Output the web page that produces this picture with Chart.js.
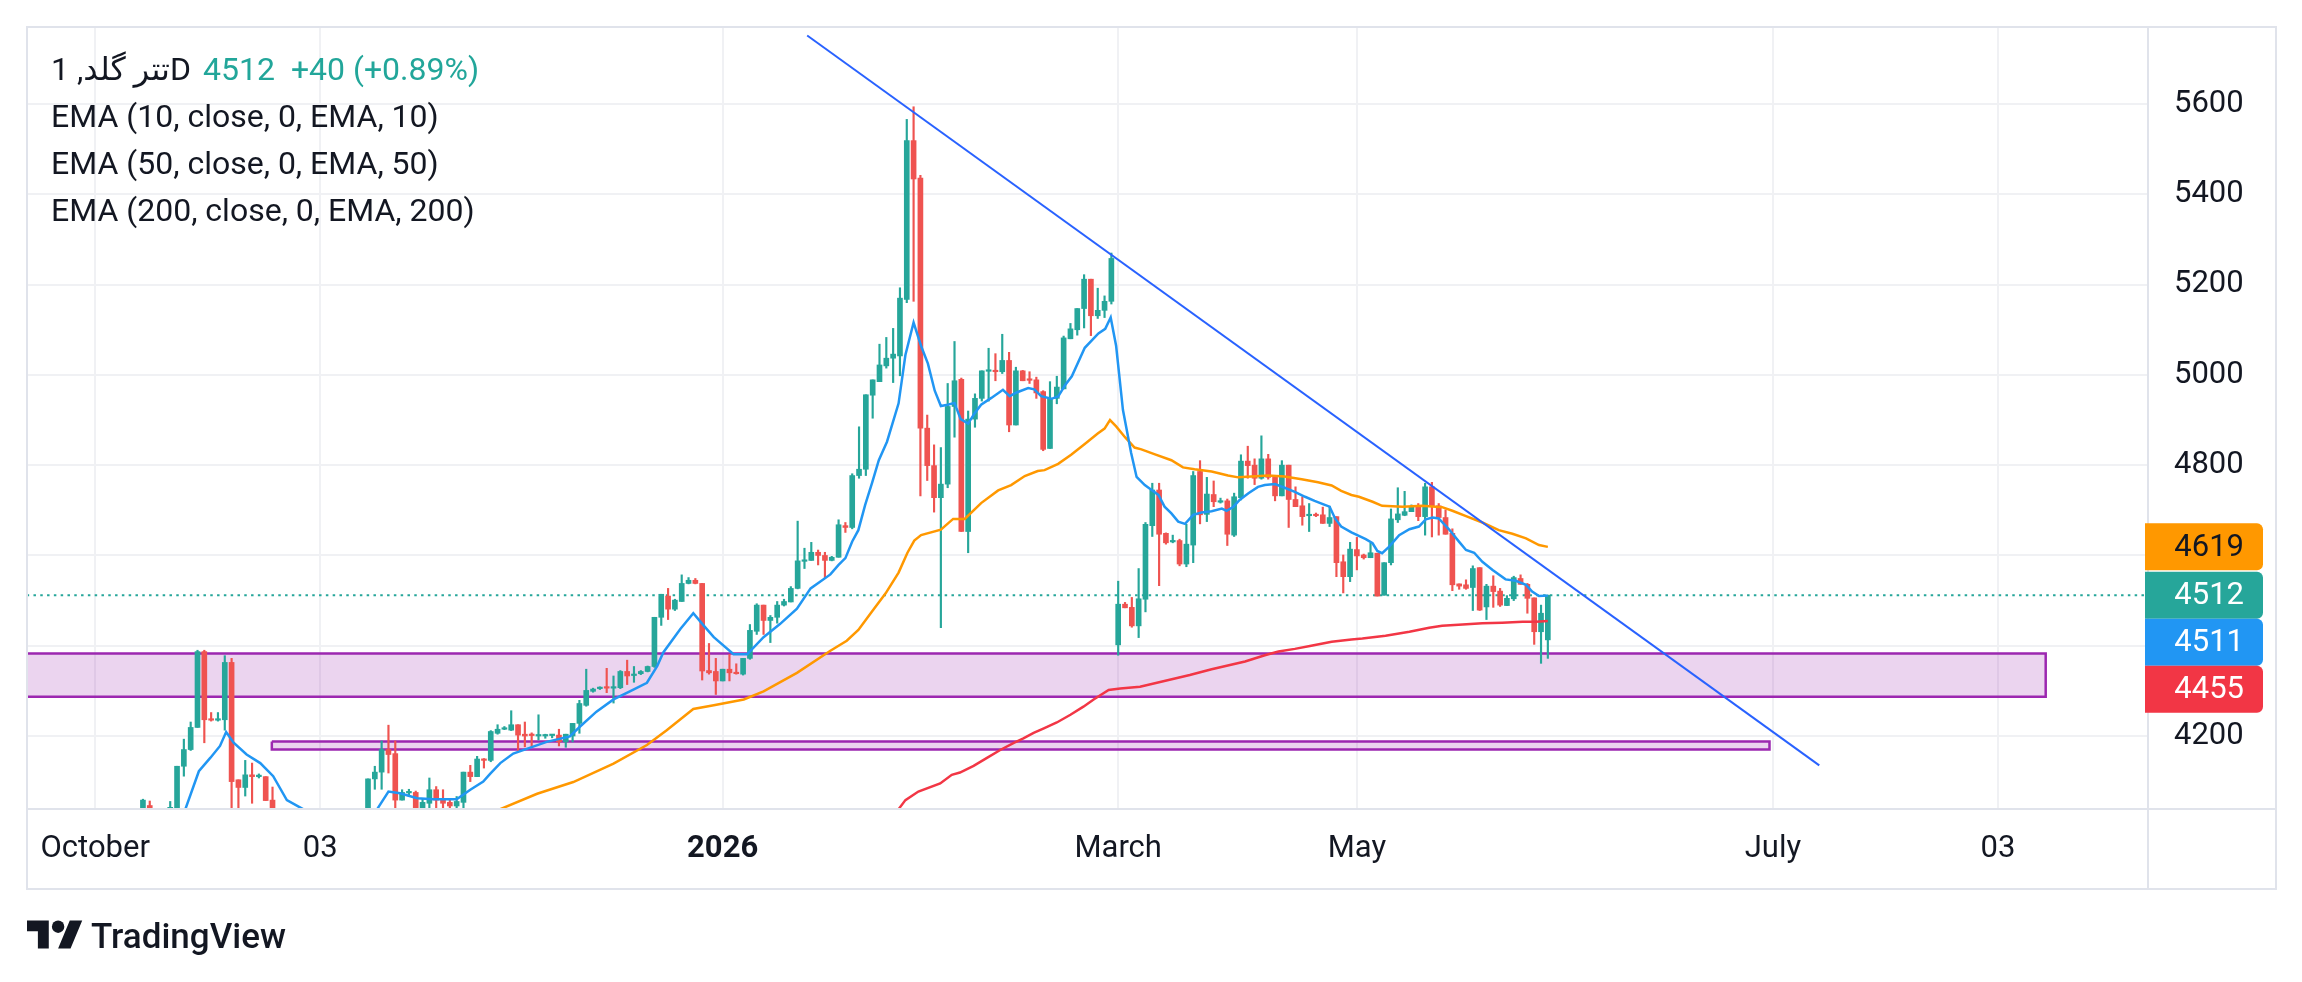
<!DOCTYPE html>
<html lang="en">
<head>
<meta charset="UTF-8">
<title>تتر گلد, 1D</title>
<script src="https://cdn.jsdelivr.net/npm/chart.js"></script>
<style>
    body {
        margin: 0;
        background: #fff;
        font-family: Roboto, 'DejaVu Sans', sans-serif;
        color: #131722;
    }

    .wrap {
        position: relative;
        width: 2302px;
        height: 982px;
    }

    canvas {
        position: absolute;
        left: 0;
        top: 0;
    }

    .legend {
        position: absolute;
        left: 51px;
        top: 46px;
        font-size: 32px;
        line-height: 47px;
        white-space: nowrap;
    }

    .legend .up {
        color: #22a69a;
    }

    .brand {
        position: absolute;
        left: 27px;
        top: 914px;
        display: flex;
        align-items: center;
        font-size: 35px;
        font-weight: 500;
    }

    .brand svg {
        margin-right: 8px;
    }
</style>
</head>
<body>
<div class="wrap">
    <canvas id="chart" width="2302" height="982"></canvas>

    <div class="legend">
        <div><span>تتر گلد, 1D</span><span class="up" style="margin-left:12px">4512</span><span class="up" style="margin-left:16px">+40</span> <span class="up">(+0.89%)</span></div>
        <div>EMA (10, close, 0, EMA, 10)</div>
        <div>EMA (50, close, 0, EMA, 50)</div>
        <div>EMA (200, close, 0, EMA, 200)</div>
    </div>

    <div class="brand">
        <svg width="56" height="44" viewBox="0 0 36 28"><path d="M14 22H7V11H0V4h14v18zM28 22h-8l7.5-18h8L28 22z" fill="#131722"/><circle cx="20" cy="8" r="4" fill="#131722"/></svg>
        <span>TradingView</span>
    </div>
</div>

<script>
    // bar index 0 = 3 Nov, one bar per trading day
    const firstBar = -26;

    const opens = [
        4025, 4046, null, null, 4020, 4020, 4133, 4170, 4219, 4387, 4237, 4235, 4236, 4363, 4103, 4086, 4114, 4110, 4110, 4058,
        null, null, null, null, null, null, null, null, null, null, null, null, null,
        4020, 4105, 4120, 4170, 4161, 4058, 4074, 4075, 4035, 4051,
        4081, 4060, 4053, 4045, 4053, 4120, 4110, 4149, 4146, 4206,
        4215, 4213, 4225, 4204, 4203, 4200, 4200, 4201, 4202, 4187,
        4200, 4228, 4268, 4299, 4305, 4308, 4306, 4307, 4343, 4334,
        4338, 4343, 4354, 4463, 4510, 4481, 4498, 4538, 4545, 4538,
        4345, 4343, 4322, 4348, 4339, 4337, 4372, 4432, 4490, 4456,
        4463, 4490, 4497, 4527, 4587, 4589, 4607, 4600, 4589, 4596,
        4666, 4662, 4777, 4791, 4955, 4985, 5020, 5037, 5042, 5167,
        5519, 5436, 4882, 4799, 4728, 4758, 4930, 4990, 4653, 4902,
        4948, 5008, 5010, 5007, 5032, 4889, 5009, 4990, 4989, 4963,
        4837, 4948, 4969, 5080, 5100, 5147, 5212, 5131, 5143, 5163,
        4402, 4492, 4485, 4444, 4503, 4666, 4745, 4649, 4630, 4633,
        4581, 4623, 4786, 4691, 4735, 4718, 4721, 4645, 4728, 4809,
        4800, 4771, 4814, 4773, 4732, 4800, 4724, 4710, 4688, 4690,
        4690, 4671, 4686, 4586, 4553, 4613, 4601, 4595, 4605, 4512,
        4584, 4679, 4689, 4697, 4707, 4686, 4752, 4710, 4684, 4649,
        4537, 4535, 4529, 4573, 4486, 4532, 4521, 4489, 4504, 4549,
        4536, 4506, 4431, 4413
    ];
    const highs = [
        4060, 4056, null, null, 4055, 4133, 4193, 4231, 4390, 4390, 4252, 4252, 4378, 4372, 4103, 4146, 4140, 4116, 4110, 4087,
        null, null, null, null, null, null, null, null, null, null, null, null, null,
        4105, 4133, 4189, 4224, 4189, 4081, 4082, 4078, 4062, 4107,
        4088, 4081, 4058, 4066, 4120, 4135, 4155, 4150, 4212, 4225,
        4221, 4256, 4225, 4231, 4207, 4247, 4204, 4203, 4215, 4204,
        4228, 4279, 4348, 4306, 4309, 4350, 4333, 4345, 4368, 4354,
        4345, 4355, 4463, 4514, 4527, 4503, 4557, 4551, 4549, 4538,
        4405, 4372, 4348, 4381, 4360, 4372, 4447, 4493, 4490, 4467,
        4498, 4503, 4531, 4676, 4616, 4629, 4612, 4607, 4598, 4679,
        4673, 4781, 4885, 4956, 4989, 5068, 5083, 5103, 5193, 5566,
        5594, 5442, 4911, 4845, 4839, 4981, 5074, 4993, 4920, 4958,
        5009, 5059, 5047, 5090, 5050, 5017, 5010, 5007, 4995, 4965,
        4985, 4997, 5086, 5114, 5147, 5222, 5212, 5192, 5175, 5270,
        4543, 4496, 4507, 4571, 4673, 4760, 4760, 4650, 4645, 4636,
        4669, 4786, 4810, 4773, 4765, 4727, 4725, 4738, 4823, 4842,
        4814, 4865, 4824, 4773, 4810, 4800, 4752, 4730, 4715, 4694,
        4707, 4709, 4686, 4601, 4629, 4640, 4603, 4627, 4605, 4584,
        4703, 4750, 4742, 4712, 4715, 4760, 4762, 4715, 4701, 4659,
        4537, 4546, 4577, 4573, 4536, 4555, 4527, 4511, 4554, 4557,
        4538, 4506, 4490, 4512
    ];
    const lows = [
        4010, 4000, null, null, 4010, 4010, 4111, 4168, 4219, 4185, 4233, 4233, 4213, 4020, 4030, 4067, 4051, 4107, 4057, 4020,
        null, null, null, null, null, null, null, null, null, null, null, null, null,
        4010, 4082, 4082, 4118, 4030, 4058, 4066, 4010, 4030, 4025,
        4030, 4035, 4040, 4035, 4035, 4099, 4110, 4129, 4143, 4204,
        4214, 4212, 4165, 4176, 4176, 4191, 4195, 4196, 4178, 4175,
        4187, 4206, 4266, 4297, 4303, 4296, 4273, 4305, 4314, 4319,
        4336, 4342, 4352, 4445, 4458, 4478, 4498, 4537, 4537, 4324,
        4337, 4292, 4322, 4322, 4337, 4335, 4370, 4425, 4425, 4407,
        4450, 4488, 4497, 4526, 4571, 4589, 4579, 4549, 4588, 4596,
        4651, 4659, 4771, 4777, 4904, 4985, 5015, 4983, 4998, 5160,
        5163, 4732, 4766, 4696, 4440, 4750, 4862, 4653, 4606, 4884,
        4942, 4942, 4987, 5003, 4874, 4889, 4987, 4981, 4948, 4832,
        4837, 4936, 4969, 5080, 5088, 5104, 5087, 5125, 5127, 5157,
        4379, 4484, 4441, 4418, 4475, 4642, 4533, 4625, 4628, 4577,
        4575, 4584, 4670, 4675, 4708, 4716, 4622, 4642, 4723, 4771,
        4757, 4769, 4769, 4721, 4732, 4662, 4708, 4667, 4653, 4686,
        4671, 4664, 4553, 4517, 4542, 4568, 4592, 4595, 4510, 4512,
        4579, 4673, 4688, 4697, 4677, 4645, 4641, 4645, 4647, 4522,
        4525, 4525, 4478, 4478, 4458, 4485, 4487, 4489, 4500, 4536,
        4472, 4403, 4361, 4372
    ];
    const closes = [
        4058, 4020, null, null, 4042, 4133, 4170, 4219, 4387, 4236, 4235, 4237, 4363, 4099, 4086, 4114, 4110, 4112, 4057, 4030,
        null, null, null, null, null, null, null, null, null, null, null, null, null,
        4105, 4120, 4170, 4159, 4058, 4075, 4076, 4030, 4053, 4081,
        4058, 4051, 4045, 4055, 4120, 4110, 4149, 4146, 4210, 4215,
        4218, 4225, 4202, 4200, 4201, 4201, 4201, 4202, 4187, 4204,
        4228, 4272, 4301, 4304, 4307, 4306, 4307, 4343, 4333, 4336,
        4343, 4354, 4463, 4514, 4481, 4501, 4538, 4545, 4538, 4344,
        4340, 4322, 4348, 4340, 4338, 4372, 4434, 4490, 4456, 4463,
        4490, 4498, 4527, 4588, 4589, 4607, 4600, 4589, 4596, 4668,
        4662, 4777, 4791, 4956, 4989, 5022, 5037, 5046, 5170, 5519,
        5434, 4882, 4799, 4728, 4758, 4930, 4987, 4653, 4902, 4948,
        5009, 5010, 5007, 5032, 4889, 5009, 4987, 4988, 4960, 4835,
        4948, 4973, 5082, 5102, 5147, 5212, 5131, 5143, 5163, 5258,
        4492, 4484, 4444, 4504, 4669, 4745, 4647, 4628, 4631, 4581,
        4625, 4777, 4690, 4736, 4719, 4720, 4647, 4730, 4809, 4799,
        4771, 4814, 4773, 4732, 4800, 4724, 4708, 4686, 4690, 4688,
        4671, 4684, 4584, 4553, 4614, 4599, 4595, 4606, 4510, 4584,
        4681, 4692, 4697, 4707, 4686, 4752, 4708, 4684, 4647, 4535,
        4532, 4527, 4571, 4479, 4532, 4520, 4490, 4505, 4551, 4536,
        4505, 4431, 4472, 4512
    ];

    // [bar index, value]
    const ema10 = [
        [-21, 4005], [-19.8, 4037], [-17.8, 4122], [-16.1, 4152], [-14.7, 4178], [-13.8, 4209], [-12.7, 4185],
        [-10.8, 4159], [-8.8, 4140], [-6.9, 4111], [-4.9, 4058], [-2.4, 4037], [-1, 4020],
        [7, 4015], [8.3, 4037], [10, 4077], [11.7, 4073], [14.2, 4062], [16.6, 4060], [20, 4060], [22, 4081],
        [23.9, 4099], [24.9, 4116], [26.4, 4140], [28.3, 4161], [33.2, 4187], [36.6, 4199], [38.1, 4221],
        [40.5, 4254], [43, 4281], [45.4, 4299], [47.9, 4318], [49.4, 4355], [50.3, 4385], [52.8, 4437],
        [54.7, 4472], [56.2, 4445], [57.7, 4419], [60.6, 4381], [62.6, 4381], [65, 4419], [67.4, 4448],
        [69.9, 4482], [71.9, 4527], [74.8, 4558], [76, 4579], [77, 4594], [78, 4631], [78.9, 4656],
        [79.9, 4712], [80.9, 4760], [81.9, 4811], [83.1, 4852], [84.8, 4937], [85.8, 5044], [87, 5116],
        [88.1, 5064], [89.1, 5025], [90.1, 4965], [91, 4931], [92, 4934], [93, 4938], [93.9, 4902],
        [95, 4892], [95.9, 4914], [96.9, 4934], [98.4, 4949], [100.1, 4967], [101.1, 4953], [102.1, 4961],
        [103.8, 4971], [104.7, 4968], [105.7, 4953], [107.2, 4947], [108.2, 4952], [109.2, 4977],
        [110.2, 4997], [112.1, 5060], [114.1, 5092], [115.1, 5102], [115.9, 5127], [116.7, 5064],
        [117.7, 4922], [118.9, 4827], [119.7, 4774], [120.9, 4756], [121.9, 4745], [122.9, 4734],
        [123.8, 4708], [124.8, 4693], [125.8, 4675], [126.8, 4670], [128, 4690], [129.2, 4695],
        [130.7, 4698], [132.2, 4704], [132.9, 4699], [133.9, 4708], [134.8, 4723], [136.1, 4738],
        [137.5, 4752], [138.5, 4756], [140, 4758], [141.4, 4750], [142.9, 4741], [144.4, 4730],
        [145.8, 4721], [147.3, 4712], [148, 4708], [148.8, 4682], [149.7, 4664], [151.2, 4651],
        [153.3, 4636], [154.3, 4627], [155, 4610], [155.7, 4605], [156.7, 4619], [158.2, 4645],
        [159.7, 4658], [161.1, 4664], [162.1, 4680], [163.1, 4684], [164, 4682], [165.5, 4658],
        [167, 4630], [168, 4612], [169.2, 4606], [170.4, 4586], [171.9, 4568], [173.8, 4547],
        [175.3, 4544], [176.8, 4535], [177.7, 4520], [178.7, 4510], [180, 4511]
    ];
    const ema50 = [
        [22, 4000], [26.4, 4038], [31.8, 4072], [37.1, 4098], [43, 4139], [47.9, 4180], [50.8, 4213],
        [54.7, 4260], [57.7, 4268], [62.1, 4281], [65, 4299], [69.9, 4340], [74.8, 4389], [77.2, 4411],
        [78.9, 4435], [80.9, 4476], [82.9, 4516], [84.8, 4562], [86.1, 4606], [87.1, 4633], [88.1, 4645],
        [91, 4657], [92.8, 4681], [94.5, 4681], [96.9, 4716], [99.4, 4744], [101.3, 4756], [103.3, 4776],
        [105.2, 4787], [106.2, 4789], [108.2, 4803], [110.1, 4823], [112.1, 4847], [114, 4870], [115, 4881],
        [115.8, 4900], [116.7, 4886], [118, 4862], [119.4, 4839], [120.4, 4835], [122.4, 4824],
        [124.8, 4811], [126.5, 4795], [128.2, 4791], [130.7, 4786], [133.1, 4777], [134.6, 4773],
        [136.5, 4775], [139, 4777], [141.4, 4775], [143.9, 4769], [146.3, 4762], [148.3, 4755],
        [149.7, 4743], [151.2, 4734], [152.3, 4730], [154.3, 4719], [155.7, 4710], [158.7, 4708],
        [161.6, 4710], [164.5, 4707], [166, 4699], [168, 4687], [170.4, 4673], [172.8, 4656],
        [174.8, 4648], [176.8, 4638], [178.7, 4623], [180, 4619]
    ];
    const ema200 = [
        [83.5, 4020], [84.8, 4038], [85.8, 4058], [87.7, 4077], [90.9, 4095], [92.6, 4114], [93.8, 4119],
        [95.8, 4134], [97.7, 4151], [99.7, 4169], [101.7, 4185], [103.1, 4195], [104.6, 4207], [106.1, 4217],
        [108, 4230], [110, 4247], [111.9, 4265], [113.4, 4281], [115.6, 4302], [117.3, 4305], [120.2, 4309],
        [127.5, 4335], [130.7, 4348], [135.6, 4365], [138.5, 4379], [140.5, 4387], [142.9, 4393],
        [145.3, 4400], [148.3, 4409], [151.2, 4414], [152.8, 4416], [156.2, 4422], [159.7, 4431],
        [162.6, 4440], [164.5, 4444], [167.5, 4447], [170.4, 4450], [173.3, 4451], [176.3, 4453],
        [178.2, 4453], [180, 4455]
    ];

    // drawn trend line and the two purple zones
    const trendLine = [[71.4, 5752], [219.8, 4135]];
    const zoneFrom = [-60, -7.1];
    const zoneTo = [253, 212.5];
    const zoneTop = [4383, 4188];
    const zoneBottom = [4287, 4170];

    const lastPrice = 4512;
    const badgeValues = [4619, 4512, 4511, 4455];
    const badgeColors = ['#ff9800', '#26a69a', '#2196f3', '#f23645'];
    const badgeTextColors = ['#131722', '#ffffff', '#ffffff', '#ffffff'];

    const tickIndex = [-33, 0, 59, 117, 152, 213, 246];
    const tickText = ['October', '03', '2026', 'March', 'May', 'July', '03'];
    const priceTicks = [4200, 4400, 4600, 4800, 5000, 5200, 5400, 5600];

    const upColor = '#26a69a';
    const downColor = '#ef5350';

    const bodies = [];
    const wicks = [];
    const candleColors = [];
    for (let k = 0; k < opens.length; k++) {
        if (opens[k] === null) continue;
        const x = firstBar + k;
        bodies.push({ x: x, y: [opens[k], closes[k]] });
        wicks.push({ x: x, y: [lows[k], highs[k]] });
        candleColors.push(closes[k] >= opens[k] ? upColor : downColor);
    }

    const toPoints = arr => arr.map(p => ({ x: p[0], y: p[1] }));

    function lineSet(points, color, width, order, extra) {
        return Object.assign({
            type: 'line',
            data: points,
            borderColor: color,
            borderWidth: width,
            pointRadius: 0,
            tension: 0,
            fill: false,
            order: order
        }, extra || {});
    }

    const datasets = [];
    zoneTop.forEach((top, k) => {
        const bottom = zoneBottom[k];
        const a = zoneFrom[k], b = zoneTo[k];
        datasets.push(lineSet([{ x: a, y: top }, { x: b, y: top }], 'transparent', 1, 12,
            { fill: '+1', backgroundColor: 'rgba(156, 39, 176, 0.2)' }));
        datasets.push(lineSet([{ x: a, y: bottom }, { x: b, y: bottom }], 'transparent', 1, 12));
        datasets.push(lineSet([
            { x: a, y: top }, { x: b, y: top }, { x: b, y: bottom }, { x: a, y: bottom }, { x: a, y: top }
        ], '#9c27b0', 2.5, 11));
    });

    datasets.push(lineSet([{ x: -60, y: lastPrice }, { x: 300, y: lastPrice }], '#26a69a', 2, 8,
        { borderDash: [2.5, 4.3] }));

    datasets.push({
        type: 'bar',
        data: wicks,
        backgroundColor: candleColors,
        barThickness: 1.5,
        grouped: false,
        order: 6
    });
    datasets.push({
        type: 'bar',
        data: bodies,
        backgroundColor: candleColors,
        barThickness: 5,
        minBarLength: 1.5,
        grouped: false,
        order: 5
    });

    datasets.push(lineSet(toPoints(ema200), '#f23645', 2.5, 4));
    datasets.push(lineSet(toPoints(ema50), '#ff9800', 2.5, 3));
    datasets.push(lineSet(toPoints(ema10), '#2196f3', 2.5, 2));
    datasets.push(lineSet(toPoints(trendLine), '#2962ff', 2, 1));

    const framePlugin = {
        id: 'frame',
        afterDraw(chart) {
            const ctx = chart.ctx;
            const area = chart.chartArea;
            const right = chart.scales.y.right;
            const bottom = chart.scales.x.bottom;
            ctx.save();
            ctx.strokeStyle = '#e0e3eb';
            ctx.lineWidth = 2;
            ctx.strokeRect(area.left, area.top, right - area.left, bottom - area.top);
            ctx.beginPath();
            ctx.moveTo(area.right, area.top);
            ctx.lineTo(area.right, bottom);
            ctx.moveTo(area.left, area.bottom);
            ctx.lineTo(right, area.bottom);
            ctx.stroke();

            // price badges, pushed down when they overlap
            const yScale = chart.scales.y;
            const h = 47;
            let prevBottom = -Infinity;
            ctx.font = '31px Roboto';
            ctx.textAlign = 'right';
            ctx.textBaseline = 'middle';
            badgeValues.forEach((v, k) => {
                const top = Math.max(yScale.getPixelForValue(v) - h / 2, prevBottom);
                prevBottom = top + h;
                ctx.fillStyle = badgeColors[k];
                ctx.beginPath();
                ctx.roundRect(area.right - 3, top, 118, h, [0, 6, 6, 0]);
                ctx.fill();
                ctx.fillStyle = badgeTextColors[k];
                ctx.fillText(String(v), area.right + 96, top + h / 2 + 1);
            });
            ctx.restore();
        }
    };

    new Chart(document.getElementById('chart'), {
        type: 'bar',
        data: { datasets: datasets },
        plugins: [framePlugin],
        options: {
            responsive: false,
            animation: false,
            devicePixelRatio: 1,
            events: [],
            layout: { padding: { left: 27, top: 27, right: 26, bottom: 93 } },
            plugins: {
                legend: { display: false },
                tooltip: { enabled: false }
            },
            scales: {
                x: {
                    type: 'linear',
                    min: -43,
                    max: 268,
                    offset: false,
                    bounds: 'data',
                    afterBuildTicks: s => { s.ticks = tickIndex.map(v => ({ value: v })); },
                    afterFit: s => {
                        s.height = 80;
                        s.paddingLeft = 0;
                        s.paddingRight = 0;
                    },
                    grid: { color: '#f0f1f4', lineWidth: 2, drawTicks: false, offset: false },
                    border: { display: false },
                    ticks: {
                        autoSkip: false,
                        maxRotation: 0,
                        padding: 22,
                        color: '#131722',
                        font: ctx => ({
                            family: 'Roboto',
                            size: 31,
                            weight: ctx.tick && ctx.tick.value === 59 ? 'bold' : 'normal'
                        }),
                        callback: v => tickText[tickIndex.indexOf(v)]
                    }
                },
                y: {
                    type: 'linear',
                    position: 'right',
                    min: 4038.3,
                    max: 5770.7,
                    bounds: 'data',
                    afterBuildTicks: s => { s.ticks = priceTicks.map(v => ({ value: v })); },
                    afterFit: s => {
                        s.width = 128;
                        s.paddingTop = 0;
                        s.paddingBottom = 0;
                    },
                    grid: { color: '#f0f1f4', lineWidth: 2, drawTicks: false },
                    border: { display: false },
                    ticks: {
                        padding: 26,
                        crossAlign: 'near',
                        color: '#131722',
                        font: { family: 'Roboto', size: 31 },
                        callback: v => String(v)
                    }
                }
            }
        }
    });
</script>
</body>
</html>
